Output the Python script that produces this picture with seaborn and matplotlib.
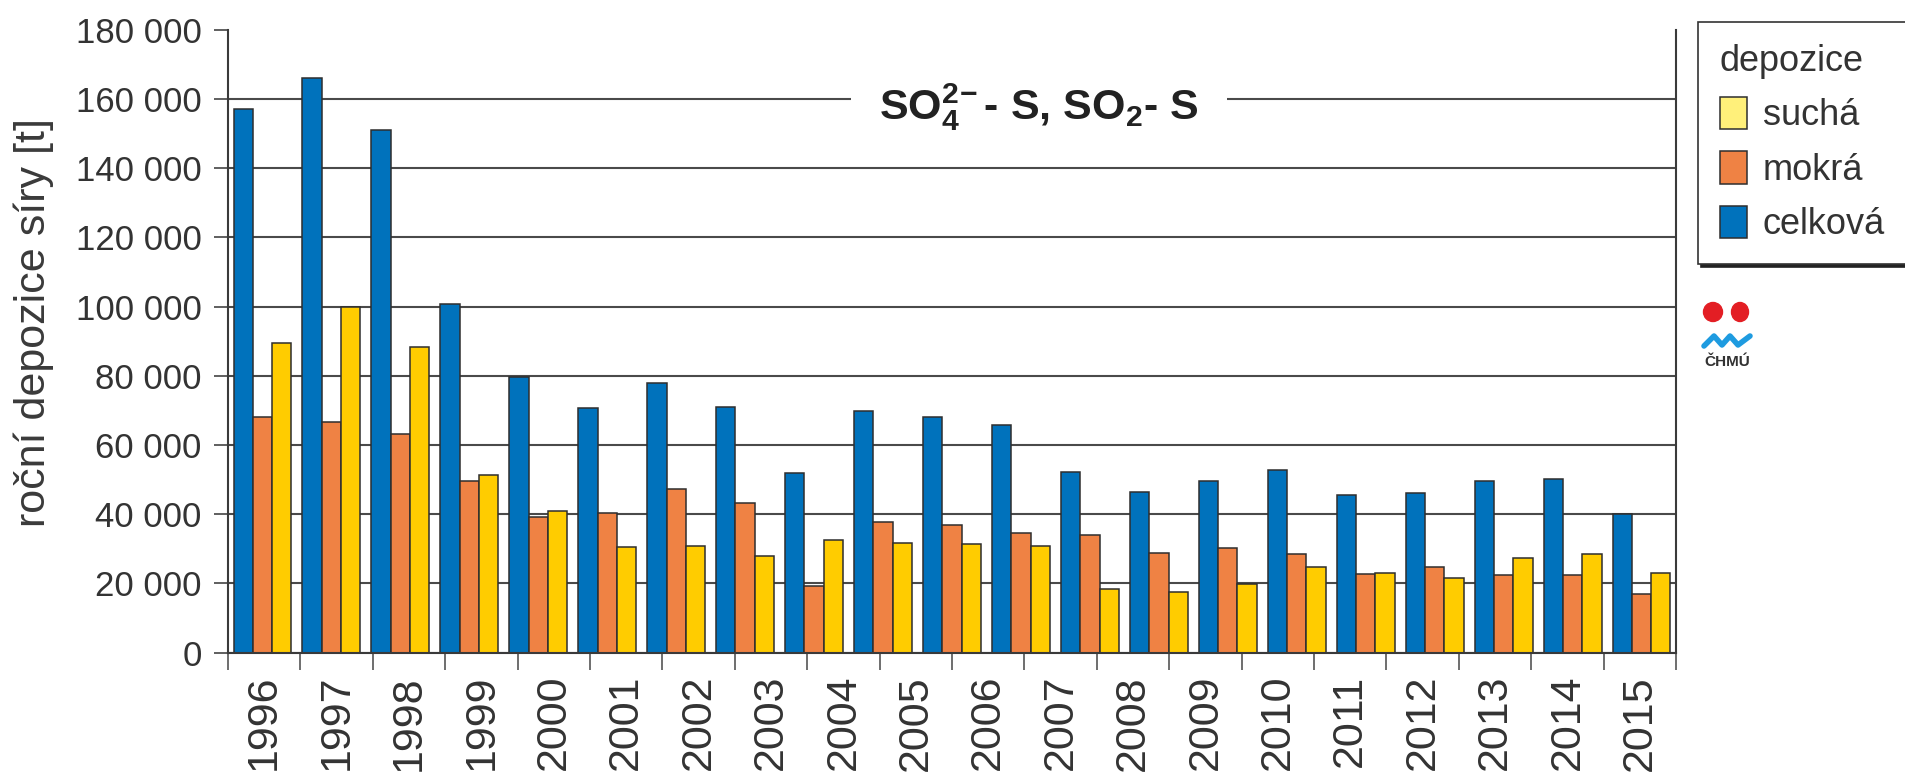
import seaborn as sns
import pandas as pd
import numpy as np
import matplotlib
matplotlib.use('Agg')
import matplotlib.pyplot as plt
from matplotlib.patches import Ellipse
from matplotlib.lines import Line2D

# values (21 bar groups drawn under 20 year labels)
celkova = [157000, 166000, 151000, 100600, 79500, 70800, 78000, 70900, 51800, 69700, 68200,
           65800, 52300, 46500, 49600, 52800, 45600, 46000, 49600, 50200, 40100]
mokra = [68200, 66600, 63100, 49500, 39300, 40300, 47200, 43200, 19300, 37900, 36900,
         34500, 34000, 28700, 30200, 28500, 22700, 24900, 22400, 22400, 17000]
sucha = [89400, 99800, 88200, 51200, 40900, 30500, 30800, 27900, 32600, 31600, 31400,
         30800, 18300, 17600, 19800, 24700, 22900, 21500, 27300, 28500, 23100]
year_labels = [str(y) for y in range(1996, 2016)]
y_ticks = list(range(0, 180001, 20000))
series_names = ['celková', 'mokrá', 'suchá']
bar_colors = ['#0072bc', '#ef8244', '#ffcc00']
legend_sucha_color = '#fff07a'

groups = [str(i) for i in range(len(celkova))]
df = pd.DataFrame({
    'skupina': groups * 3,
    'depozice': ['celková'] * len(groups) + ['mokrá'] * len(groups) + ['suchá'] * len(groups),
    'hodnota': celkova + mokra + sucha,
})

sns.set_style('white')
plt.rcParams['font.family'] = ['Liberation Sans', 'DejaVu Sans']
plt.rcParams['mathtext.fontset'] = 'custom'
plt.rcParams['mathtext.rm'] = 'Liberation Sans:bold'
plt.rcParams['mathtext.bf'] = 'Liberation Sans:bold'

fig = plt.figure(figsize=(19.05, 7.8), dpi=100)
ax = fig.add_axes([228 / 1905, 1 - 652.7 / 780, (1676 - 228) / 1905, (652.7 - 29.6) / 780])

sns.barplot(data=df, x='skupina', y='hodnota', hue='depozice', order=groups,
            hue_order=series_names, palette=bar_colors, width=0.84, gap=0,
            edgecolor='#2e2e2e', linewidth=1.1, saturation=1, ax=ax)

# y axis
ax.set_ylim(0, 180000)
ax.set_yticks(y_ticks)
ax.set_yticklabels([f'{v:,}'.replace(',', ' ') for v in y_ticks], fontsize=25, color='#333333')
ax.yaxis.grid(True, color='#4a4a4a', linewidth=1.5)
ax.yaxis.get_gridlines()[-1].set_visible(False)
ax.set_axisbelow(True)
ax.tick_params(axis='y', length=10, width=1.2, color='#444444', pad=9, left=True)
ax.set_ylabel('roční depozice síry [t]', fontsize=31, color='#3a3a3a')
ax.yaxis.set_label_coords(-0.12, 0.53)

# x axis: year labels spread over the whole width, separators between them
slot_edges = np.linspace(-0.5, len(groups) - 0.5, len(year_labels) + 1)
ax.set_xlim(slot_edges[0], slot_edges[-1])
ax.set_xticks((slot_edges[:-1] + slot_edges[1:]) / 2)
ax.set_xticklabels(year_labels, rotation=90, fontsize=31, color='#333333')
ax.set_xticks(slot_edges, minor=True)
ax.tick_params(axis='x', which='major', length=0, pad=16)
ax.tick_params(axis='x', which='minor', length=12, width=1.2, color='#555555', bottom=True)
ax.set_xlabel('')

for side in ['left', 'right', 'bottom']:
    ax.spines[side].set_color('#3a3a3a')
    ax.spines[side].set_linewidth(1.5)
ax.spines['top'].set_visible(False)

# title inside the plot
ax.text(0.56, 0.876, r'SO$_{4}^{2\!-}$- S, SO$_{2}$- S',
        transform=ax.transAxes, ha='center', va='center', fontsize=31,
        fontweight='bold', color='#222222',
        bbox=dict(boxstyle='square,pad=0.65', facecolor='white', edgecolor='none'))

# legend, reversed order, pale swatch for suchá
old = ax.get_legend()
handles = list(old.legend_handles)
labels = [t.get_text() for t in old.texts]
old.remove()
handles[2].set_facecolor(legend_sucha_color)
leg = fig.legend(handles[::-1], labels[::-1], title='depozice', loc='upper left',
                 bbox_to_anchor=(1698 / 1905, 1 - 22 / 780), bbox_transform=fig.transFigure,
                 borderaxespad=0, fontsize=26, title_fontsize=26, alignment='left',
                 handlelength=0.75, handleheight=1.0, handletextpad=0.45,
                 labelspacing=0.5, borderpad=0.6, fancybox=False, frameon=True,
                 shadow={'color': '#222222', 'alpha': 1})
leg.get_frame().set_edgecolor('#333333')
leg.get_frame().set_linewidth(1.2)
for t in leg.texts:
    t.set_color('#333333')
leg.get_title().set_color('#333333')

# small CHMU logo
fig.add_artist(Ellipse((1713 / 100, (780 - 312) / 100), 0.19, 0.19, color='#e31e24',
                       transform=fig.dpi_scale_trans))
fig.add_artist(Ellipse((1740 / 100, (780 - 312) / 100), 0.17, 0.19, color='#e31e24',
                       transform=fig.dpi_scale_trans))
fig.add_artist(Line2D([17.04, 17.14, 17.22, 17.3, 17.38, 17.5],
                      [4.34, 4.44, 4.35, 4.44, 4.35, 4.44],
                      color='#1e9be0', linewidth=4, transform=fig.dpi_scale_trans))
fig.text(1727 / 1905, 1 - 362 / 780, 'ČHMÚ', ha='center', va='center', fontsize=11,
         fontweight='bold', color='#333333')

fig.savefig('out.png', dpi=100)
